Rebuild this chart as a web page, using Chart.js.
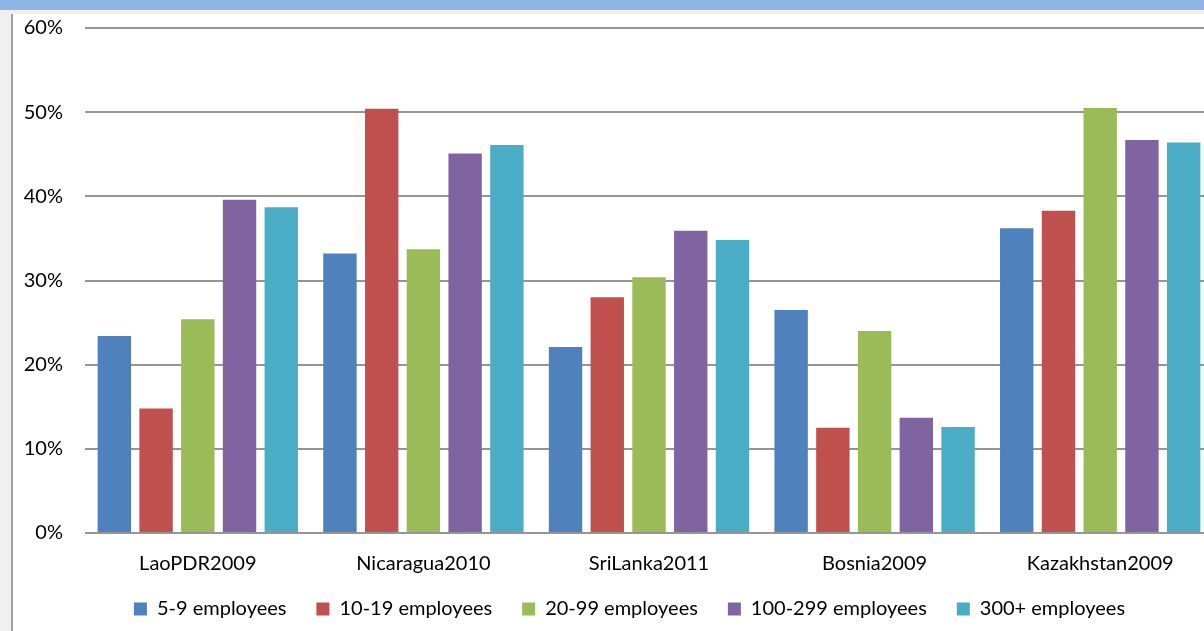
<!DOCTYPE html>
<html>
<head>
<meta charset="utf-8">
<script src="https://cdn.jsdelivr.net/npm/chart.js@4"></script>
<style>
    html, body { margin: 0; padding: 0; overflow: hidden; background: #fff; width: 1204px; height: 631px; }
    .deco { position: absolute; z-index: 2; }
    #topBand { left: 0; top: 0; width: 1204px; height: 10px; background: #8eb4e3; }
    #topGap { left: 0; top: 10px; width: 1204px; height: 4px; background: #efefef; }
    #leftGap { left: 0; top: 14px; width: 11px; height: 617px; background: #f0f0f0; }
    #leftLine { left: 11px; top: 14px; width: 2px; height: 617px; background: #a0a0a0; }
    #chartBox { position: absolute; z-index: 1; left: 12px; top: -6px; width: 1201px; height: 642px; }
</style>
</head>
<body>
<div id="topBand" class="deco"></div>
<div id="topGap" class="deco"></div>
<div id="leftGap" class="deco"></div>
<div id="leftLine" class="deco"></div>
<div id="chartBox"><canvas id="firmChart"></canvas></div>
<script>
// countries / survey years
const categories = ['LaoPDR2009', 'Nicaragua2010', 'SriLanka2011', 'Bosnia2009', 'Kazakhstan2009'];

// share (%) by firm size
const emp5to9 = [23.4, 33.2, 22.1, 26.5, 36.2];
const emp10to19 = [14.8, 50.4, 28.0, 12.5, 38.3];
const emp20to99 = [25.4, 33.7, 30.4, 24.0, 50.5];
const emp100to299 = [39.6, 45.1, 35.9, 13.7, 46.7];
const emp300plus = [38.7, 46.1, 34.8, 12.6, 46.4];

const seriesNames = ['5-9 employees', '10-19 employees', '20-99 employees', '100-299 employees', '300+ employees'];
const seriesColors = ['#4f81bd', '#c0504d', '#9bbb59', '#8064a2', '#4bacc6'];
const yTicks = [0, 10, 20, 30, 40, 50, 60];

Chart.defaults.font.family = 'Lato, "Liberation Sans", sans-serif';
Chart.defaults.color = '#000';

const ctx = document.getElementById('firmChart').getContext('2d');

const allSeries = [emp5to9, emp10to19, emp20to99, emp100to299, emp300plus];

// nudge the legend a bit right and up, like the excel one
const legendNudge = {
    id: 'legendNudge',
    afterLayout(chart) {
        const lg = chart.legend;
        if (!lg) return;
        lg.left += 17;
        lg.right += 17;
        lg.top -= 7;
        lg.bottom -= 7;
    }
};

const chart = new Chart(ctx, {
    type: 'bar',
    data: {
        labels: categories,
        datasets: allSeries.map((vals, i) => ({
            label: seriesNames[i],
            data: vals,
            backgroundColor: seriesColors[i],
            borderWidth: 0,
            categoryPercentage: 0.925,
            barPercentage: 0.8
        }))
    },
    options: {
        responsive: true,
        maintainAspectRatio: false,
        animation: false,
        layout: {
            padding: 0
        },
        plugins: {
            legend: {
                position: 'bottom',
                fullSize: true,
                labels: {
                    boxWidth: 13,
                    boxHeight: 13,
                    padding: 30,
                    font: { size: 20 },
                    color: '#000'
                }
            },
            tooltip: { enabled: false }
        },
        scales: {
            x: {
                grid: { display: false, drawTicks: false },
                border: { display: false },
                ticks: {
                    padding: 19,
                    font: { size: 20 },
                    color: '#000',
                    autoSkip: false,
                    maxRotation: 0
                },
                afterFit: (scale) => { scale.height = 43; }
            },
            y: {
                min: 0,
                max: 60,
                afterBuildTicks: (scale) => { scale.ticks = yTicks.map(v => ({ value: v })); },
                grid: {
                    color: '#959595',
                    lineWidth: 2,
                    drawTicks: false
                },
                border: { display: false },
                ticks: {
                    padding: 22,
                    font: { size: 20 },
                    color: '#000',
                    callback: (v) => v + '%'
                },
                afterFit: (scale) => { scale.width = 73; }
            }
        }
    },
    plugins: [legendNudge]
});
</script>
</body>
</html>
